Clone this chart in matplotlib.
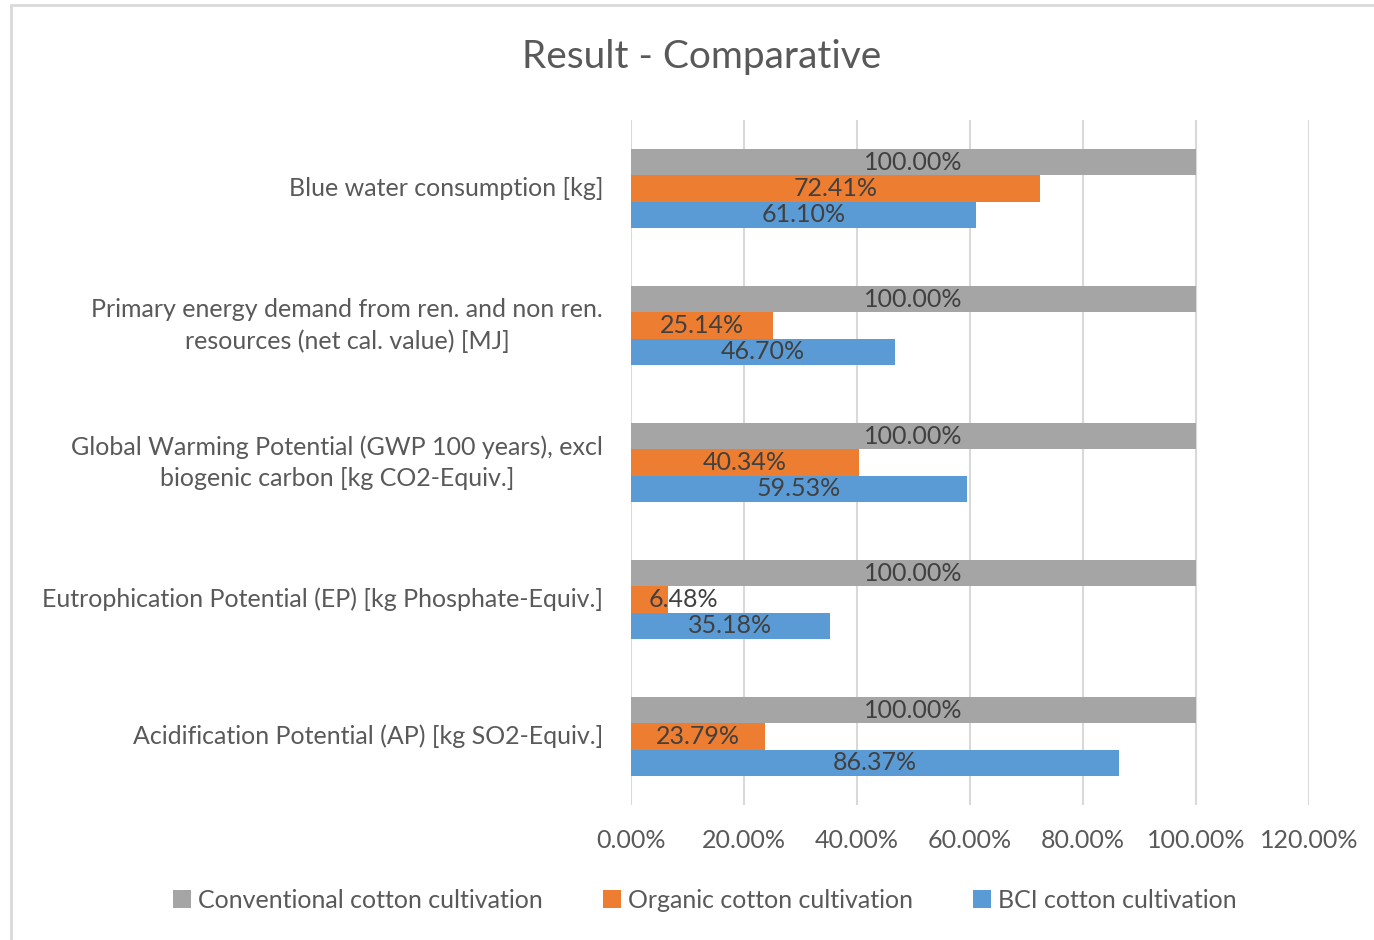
import matplotlib.pyplot as plt
import numpy as np
from matplotlib.patches import Rectangle, Patch

categories = [
    "Blue water consumption [kg]",
    "Primary energy demand from ren. and non ren.\nresources (net cal. value) [MJ]",
    "Global Warming Potential (GWP 100 years), excl\nbiogenic carbon [kg CO2-Equiv.]",
    "Eutrophication Potential (EP) [kg Phosphate-Equiv.]",
    "Acidification Potential (AP) [kg SO2-Equiv.]",
]
series_names = ["Conventional cotton cultivation", "Organic cotton cultivation", "BCI cotton cultivation"]
conventional = [100.00, 100.00, 100.00, 100.00, 100.00]
organic = [72.41, 25.14, 40.34, 6.48, 23.79]
bci = [61.10, 46.70, 59.53, 35.18, 86.37]
xticks = [0, 20, 40, 60, 80, 100, 120]

colors = ["#A5A5A5", "#ED7D31", "#5B9BD5"]
txt = "#595959"
lbl = "#404040"
fs = 18
plt.rcParams['font.family'] = ['Lato', 'DejaVu Sans']

fig = plt.figure(figsize=(13.74, 9.40), dpi=100)
ax = fig.add_axes([631 / 1374, 1 - 805 / 940, 678 / 1374, 685 / 940])

# chart frame
fig.patches.append(Rectangle((11 / 1374, -0.05), 1.2, 1.05 - 5 / 940, transform=fig.transFigure,
                             fill=False, edgecolor="#d9d9d9", linewidth=2, zorder=0))

y = np.arange(len(categories))
h = 0.19
for k, (vals, c) in enumerate(zip([conventional, organic, bci], colors)):
    pos = y + (k - 1) * h
    ax.barh(pos, vals, height=h, color=c, zorder=3)
    for p, v in zip(pos, vals):
        ax.text(max(v / 2, 9.3), p, f"{v:.2f}%", ha="center", va="center",
                fontsize=fs, color=lbl, zorder=4)

ax.set_xlim(0, 120)
ax.set_ylim(len(categories) - 0.5, -0.5)
ax.set_xticks(xticks)
ax.set_xticklabels([f"{t:.2f}%" for t in xticks])
ax.set_yticks(y)
ax.set_yticklabels(categories, multialignment="center", linespacing=1.45)
for t in ax.get_yticklabels():
    t.set_va("center")
ax.tick_params(axis="both", length=0, labelsize=fs, labelcolor=txt)
ax.tick_params(axis="x", pad=17)
ax.tick_params(axis="y", pad=20)
for s in ax.spines.values():
    s.set_visible(False)
ax.grid(axis="x", color="#d9d9d9", linewidth=1.5, zorder=0)
ax.set_axisbelow(True)

fig.text(702 / 1374, 1 - 57 / 940, "Result - Comparative", ha="center", va="center",
         fontsize=28, color=txt)

handles = [Patch(facecolor=c, edgecolor="none") for c in colors]
fig.legend(handles, series_names, ncol=3, loc="center", bbox_to_anchor=(705 / 1374, 1 - 900 / 940),
           frameon=False, fontsize=fs, labelcolor=txt, handlelength=0.7, handleheight=0.7,
           handletextpad=0.3, columnspacing=2.4)

fig.savefig("out.png", dpi=100)
